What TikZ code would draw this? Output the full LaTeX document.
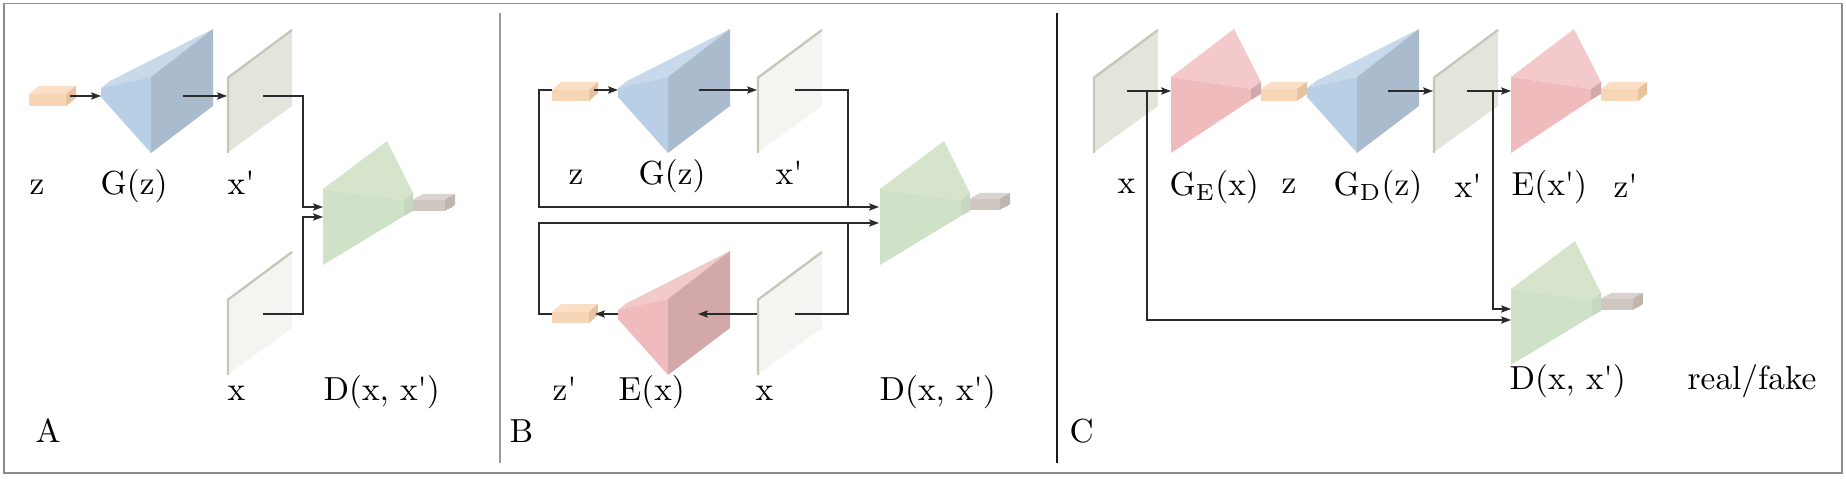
\documentclass[tikz,border=0pt]{standalone}
\usetikzlibrary{arrows.meta}
\usepackage{textcomp}
\definecolor{blueT}{HTML}{C7D9EA}
\definecolor{blueF}{HTML}{B9CFE5}
\definecolor{blueR}{HTML}{AABBCE}
\definecolor{redT}{HTML}{F3C9CB}
\definecolor{redF}{HTML}{EFBBBD}
\definecolor{redR}{HTML}{D3A8AA}
\definecolor{greenT}{HTML}{D6E4CC}
\definecolor{greenF}{HTML}{CFE2C8}
\definecolor{greenS}{HTML}{C6D8BF}
\definecolor{orT}{HTML}{FADFC6}
\definecolor{orF}{HTML}{F7D6B8}
\definecolor{orS}{HTML}{E6C29E}
\definecolor{gyT}{HTML}{DAD3CF}
\definecolor{gyF}{HTML}{CFC7C2}
\definecolor{gyS}{HTML}{BFB5AF}
\definecolor{planeD}{HTML}{E3E4DC}
\definecolor{planeL}{HTML}{F4F4F1}
\definecolor{planeE}{HTML}{C5C8B9}
\definecolor{linec}{HTML}{2A2A2A}
\definecolor{framec}{HTML}{8A8A8A}
\tikzset{
  conn/.style={draw=linec, line width=0.32pt},
  arr/.style={conn, -{Stealth[length=3pt,width=2.2pt,inset=0.6pt]}},
  lbl/.style={inner sep=0pt, anchor=base west, font=\fontsize{10}{12}\selectfont},
  planeedge/.style={draw=planeE, line width=0.7pt, line join=miter},
}
\newcommand\pr{\textquotesingle}
% cuboid: x, y (front top-left), w, h, dx, dy, top, front, side
\newcommand\mycuboid[9]{%
  \fill[#7] (#1,#2) -- ++(#5,-#6) -- ++(#3,0) -- ++(-#5,#6) -- cycle;
  \fill[#8] (#1,#2) rectangle ++(#3,#4);
  \fill[#9] ({#1+#3},#2) -- ++(#5,-#6) -- ++(0,#4) -- ++(-#5,#6) -- cycle;
}
% decoder prism: L, dy, top, front, right
\newcommand\mydecoder[5]{%
  \begin{scope}[shift={(#1,#2)}]
    \fill[#3] (0,88) -- (9,81) -- (112,29) -- (50,77) -- cycle;
    \fill[#4] (0,88) -- (50,77) -- (50,153) -- (0,97) -- cycle;
    \fill[#5] (50,77) -- (112,29) -- (112,106) -- (50,153) -- cycle;
  \end{scope}}
% encoder: L, dy, top, front, side
\newcommand\myencoder[5]{%
  \begin{scope}[shift={(#1,#2)}]
    \fill[#3] (0,77) -- (63,29) -- (90,82) -- (80,89) -- cycle;
    \fill[#4] (0,77) -- (80,89) -- (80,100) -- (0,153) -- cycle;
    \fill[#5] (80,89) -- (90,82) -- (90,94) -- (80,100) -- cycle;
  \end{scope}}
% discriminator: L, dy
\newcommand\mydisc[2]{%
  \begin{scope}[shift={(#1,#2)}]
    \fill[greenT] (0,189) -- (64,141) -- (90,193) -- (81,200) -- cycle;
    \fill[greenF] (0,189) -- (81,200) -- (81,216) -- (0,265) -- cycle;
    \fill[greenS] (81,200) -- (90,193) -- (90,211) -- (81,216) -- cycle;
  \end{scope}}
% image plane: L, dy, fill
\newcommand\myplane[3]{%
  \begin{scope}[shift={(#1,#2)}]
    \fill[#3] (0,77) -- (65,29) -- (65,106) -- (0,153) -- cycle;
    \draw[planeedge] (1,153) -- (1,77.7) -- (65,30);
  \end{scope}}
% stacked output box: x, y, w
\newcommand\myoutbox[3]{%
  \begin{scope}[shift={(#1,#2)}]
    \mycuboid{6}{-3}{#3}{11}{4}{3}{gyT}{gyF}{gyS}
    \mycuboid{3}{-1.5}{#3}{11}{4}{3}{gyT}{gyF!85!white}{gyS}
    \mycuboid{0}{0}{#3}{11}{4}{3}{gyT}{gyF}{gyS}
  \end{scope}}
\begin{document}
\begin{tikzpicture}[x=0.3pt,y=-0.3pt]
\useasboundingbox (0,0) rectangle (1846,479);
\draw[framec, line width=0.4pt] (4,3.5) rectangle (1842,473);
\draw[black!40, line width=0.35pt] (500,13) -- (500,463);
\draw[black!90, line width=0.35pt] (1057,13) -- (1057,463);

%%% Panel A
\mycuboid{29}{94}{37}{12}{10}{8}{orT}{orF}{orS}
\mydecoder{101}{0}{blueT}{blueF}{blueR}
\myplane{227}{0}{planeD}
\myplane{227}{222}{planeL}
\mydisc{323}{0}
\myoutbox{413}{200}{32}

\coordinate (Aza) at (70,96);
\coordinate (AGin) at (101,96);
\coordinate (AGout) at (183,96);
\coordinate (Axpin) at (227,96);
\coordinate (Axpout) at (263,96);
\coordinate (Aj1) at (303,96);
\coordinate (ADin1) at (323,207);
\coordinate (Axout) at (263,314);
\coordinate (Aj2) at (303,314);
\coordinate (ADin2) at (323,217);
\draw[arr] (Aza) -- (AGin);
\draw[arr] (AGout) -- (Axpin);
\draw[arr] (Axpout) -- (Aj1) |- (ADin1);
\draw[arr] (Axout) -- (Aj2) |- (ADin2);

\node[lbl] (Alz) at (29,195) {z};
\node[lbl] (AlG) at (100,195) {G(z)};
\node[lbl] (Alxp) at (227,195) {x\pr};
\node[lbl] (Alx) at (227,401) {x};
\node[lbl] (AlD) at (323,401) {D(x, x\pr)};
\node[lbl] (AlA) at (35,443) {A};

%%% Panel B
\mycuboid{552}{90}{37}{11}{9}{8}{orT}{orF}{orS}
\mydecoder{618}{0}{blueT}{blueF}{blueR}
\myplane{757}{0}{planeL}
\myplane{757}{222}{planeL}
\mydecoder{618}{222}{redT}{redF}{redR}
\mycuboid{552}{312}{37}{11}{9}{8}{orT}{orF}{orS}
\mydisc{880}{0}
\myoutbox{970}{199}{30}

\coordinate (Bzl) at (552,90);
\coordinate (Bc1) at (539,90);
\coordinate (BDin1) at (879,207);
\coordinate (Bza) at (594,90);
\coordinate (BGin) at (618,90);
\coordinate (BGout) at (699,90);
\coordinate (Bxpin) at (757,90);
\coordinate (Bxpout) at (795,90);
\coordinate (Bj1) at (848,90);
\coordinate (Bj1b) at (848,207);
\coordinate (Bzpl) at (552,314);
\coordinate (Bc2) at (539,314);
\coordinate (BDin2) at (879,223);
\coordinate (Bxout) at (795,314);
\coordinate (Bj2) at (848,314);
\coordinate (Bj2b) at (848,223);
\coordinate (Bxin) at (757,314);
\coordinate (BEin) at (698,314);
\coordinate (BEout) at (618,314);
\coordinate (Bzpin) at (595,314);
\draw[arr] (Bzl) -- (Bc1) |- (BDin1);
\draw[arr] (Bza) -- (BGin);
\draw[arr] (BGout) -- (Bxpin);
\draw[conn] (Bxpout) -- (Bj1) -- (Bj1b);
\draw[arr] (Bzpl) -- (Bc2) |- (BDin2);
\draw[conn] (Bxout) -- (Bj2) -- (Bj2b);
\draw[arr] (Bxin) -- (BEin);
\draw[arr] (BEout) -- (Bzpin);

\node[lbl] (Blz) at (568,185) {z};
\node[lbl] (BlG) at (638,185) {G(z)};
\node[lbl] (Blxp) at (775,185) {x\pr};
\node[lbl] (Blzp) at (552,401) {z\pr};
\node[lbl] (BlE) at (618,401) {E(x)};
\node[lbl] (Blx) at (755,401) {x};
\node[lbl] (BlD) at (879,401) {D(x, x\pr)};
\node[lbl] (BlB) at (509,443) {B};

%%% Panel C
\myplane{1093}{0}{planeD}
\myencoder{1171}{0}{redT}{redF}{redR}
\mycuboid{1261}{89}{36}{12}{10}{7}{orT}{orF}{orS}
\mydecoder{1307}{0}{blueT}{blueF}{blueR}
\myplane{1433}{0}{planeD}
\myencoder{1511}{0}{redT}{redF}{redR}
\mycuboid{1601}{89}{37}{12}{9}{7}{orT}{orF}{orS}
\mydisc{1511}{100}
\myoutbox{1601}{299}{32}

\coordinate (Cxout) at (1127,91);
\coordinate (CGEin) at (1171,91);
\coordinate (CGDout) at (1388,91);
\coordinate (Cxpin) at (1433,91);
\coordinate (Cxpout) at (1467,91);
\coordinate (CEin) at (1511,91);
\coordinate (Cj1) at (1493,91);
\coordinate (CDin1) at (1511,309);
\coordinate (Cj2) at (1147,91);
\coordinate (CDin2) at (1511,320);
\draw[arr] (Cxout) -- (CGEin);
\draw[arr] (CGDout) -- (Cxpin);
\draw[arr] (Cxpout) -- (CEin);
\draw[arr] (Cj1) |- (CDin1);
\draw[arr] (Cj2) |- (CDin2);

\node[lbl] (Clx) at (1117,194) {x};
\node[lbl] (ClGE) at (1169,196) {G$_{\mathrm{E}}$(x)};
\node[lbl] (Clz) at (1281,194) {z};
\node[lbl] (ClGD) at (1333,196) {G$_{\mathrm{D}}$(z)};
\node[lbl] (Clxp) at (1454,198) {x\pr};
\node[lbl] (ClE) at (1511,196) {E(x\pr)};
\node[lbl] (Clzp) at (1613,198) {z\pr};
\node[lbl] (ClD) at (1509,390) {D(x, x\pr)};
\node[lbl] (Clrf) at (1687,390) {real/fake};
\node[lbl] (ClC) at (1069,443) {C};
\end{tikzpicture}
\end{document}
